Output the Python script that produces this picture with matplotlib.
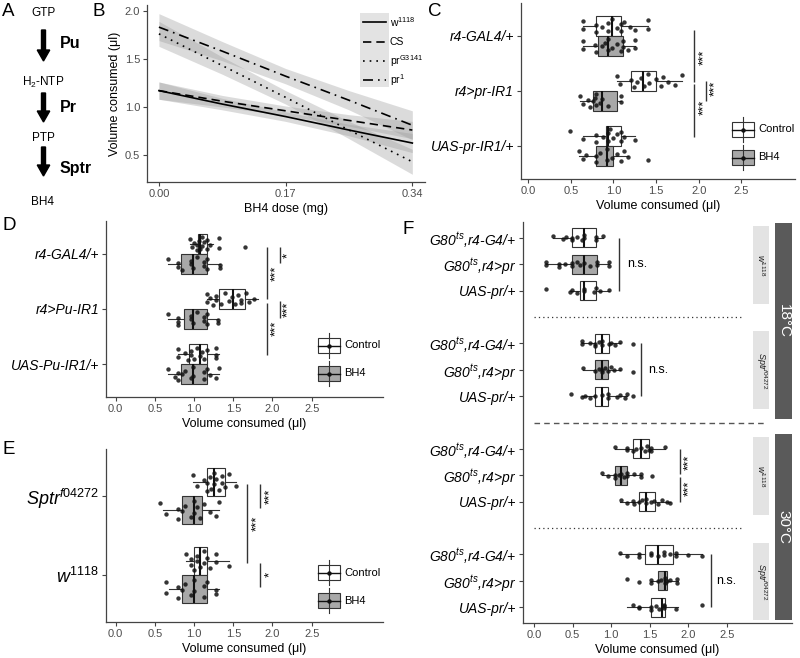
import numpy as np
import matplotlib
matplotlib.use("Agg")
import matplotlib.pyplot as plt
from matplotlib.patches import Rectangle, FancyArrow
from matplotlib.ticker import FormatStrFormatter
from matplotlib.transforms import blended_transform_factory, offset_copy

plt.rcParams["font.family"] = ["Liberation Sans", "DejaVu Sans"]
plt.rcParams["mathtext.fontset"] = "custom"
plt.rcParams["mathtext.rm"] = "Liberation Sans"
plt.rcParams["mathtext.it"] = "Liberation Sans:italic"
plt.rcParams["mathtext.bf"] = "Liberation Sans:bold"
plt.rcParams["mathtext.default"] = "it"

# ---------------- data ----------------
# B: fitted volume vs BH4 dose (with confidence half-widths)
b_dose = [0.0, 0.085, 0.17, 0.255, 0.34]
b_names = [r"w$^{\mathrm{1118}}$", "CS", r"pr$^{\mathrm{G3141}}$", r"pr$^{\mathrm{1}}$"]
b_w1118 = [1.17, 1.03, 0.90, 0.76, 0.625]
b_cs = [1.17, 1.06, 0.96, 0.86, 0.76]
b_prg = [1.76, 1.43, 1.10, 0.76, 0.43]
b_pr1 = [1.83, 1.58, 1.32, 1.07, 0.81]
b_ci_w1118 = [0.09, 0.06, 0.05, 0.06, 0.10]
b_ci_cs = [0.09, 0.06, 0.05, 0.06, 0.09]
b_ci_prg = [0.13, 0.09, 0.07, 0.09, 0.13]
b_ci_pr1 = [0.14, 0.10, 0.08, 0.10, 0.15]

# box stats: (q1, median, q3, whisker low, whisker high)
c_groups = ["r4-GAL4/+", "r4>pr-IR1", "UAS-pr-IR1/+"]
c_ctrl_box = [(0.80, 0.98, 1.09, 0.64, 1.41), (1.20, 1.35, 1.50, 1.04, 1.80), (0.91, 0.94, 1.09, 0.64, 1.25)]
c_bh4_box = [(0.82, 0.94, 1.11, 0.64, 1.25), (0.76, 0.86, 1.04, 0.61, 1.09), (0.80, 0.92, 1.00, 0.60, 1.17)]
c_ctrl_pts = [[0.64, 0.64, 0.80, 0.80, 0.86, 0.94, 0.94, 0.98, 1.04, 1.09, 1.09, 1.12, 1.19, 1.25, 1.41, 1.41],
              [1.04, 1.08, 1.20, 1.24, 1.28, 1.32, 1.36, 1.40, 1.42, 1.50, 1.56, 1.58, 1.64, 1.72, 1.80],
              [0.49, 0.64, 0.80, 0.80, 0.88, 0.94, 0.94, 0.96, 1.00, 1.04, 1.09, 1.09, 1.12, 1.25]]
c_bh4_pts = [[0.64, 0.64, 0.78, 0.80, 0.86, 0.90, 0.94, 0.94, 0.98, 1.04, 1.09, 1.11, 1.11, 1.17, 1.25, 1.25],
             [0.61, 0.64, 0.70, 0.72, 0.76, 0.78, 0.80, 0.80, 0.84, 0.86, 0.94, 1.09, 1.09],
             [0.60, 0.64, 0.68, 0.80, 0.80, 0.84, 0.92, 0.92, 0.98, 1.04, 1.09, 1.12, 1.17, 1.41]]
c_sig_lines = [(1.95, 0.89, 1.84), (1.95, 1.88, 2.83), (2.08, 1.82, 2.18)]
c_sig_text = [(2.02, 1.38, "***"), (2.02, 2.30, "***"), (2.15, 1.95, "***")]

d_groups = ["r4-GAL4/+", "r4>Pu-IR1", "UAS-Pu-IR1/+"]
d_ctrl_box = [(1.05, 1.08, 1.16, 0.95, 1.24), (1.32, 1.50, 1.65, 1.16, 1.81), (0.93, 1.08, 1.16, 0.80, 1.32)]
d_bh4_box = [(0.83, 0.99, 1.16, 0.67, 1.33), (0.87, 0.99, 1.16, 0.67, 1.31), (0.83, 0.99, 1.16, 0.67, 1.32)]
d_ctrl_pts = [[0.95, 0.97, 1.00, 1.04, 1.04, 1.06, 1.08, 1.10, 1.10, 1.12, 1.16, 1.16, 1.20, 1.32, 1.32, 1.65],
              [1.16, 1.16, 1.20, 1.24, 1.28, 1.28, 1.34, 1.40, 1.44, 1.48, 1.52, 1.56, 1.60, 1.60, 1.66, 1.70, 1.76],
              [0.80, 0.80, 0.88, 0.92, 0.96, 0.96, 1.00, 1.04, 1.08, 1.10, 1.12, 1.16, 1.28, 1.28, 1.28]]
d_bh4_pts = [[0.67, 0.80, 0.80, 0.84, 0.96, 0.96, 0.99, 1.04, 1.12, 1.12, 1.16, 1.16, 1.33, 1.33],
             [0.67, 0.80, 0.80, 0.80, 0.96, 0.96, 0.99, 1.04, 1.12, 1.12, 1.16, 1.16, 1.31, 1.31],
             [0.67, 0.76, 0.80, 0.80, 0.84, 0.88, 0.96, 0.99, 0.99, 1.12, 1.12, 1.16, 1.20, 1.28, 1.32]]
d_sig_lines = [(1.93, 0.87, 1.82), (1.93, 1.89, 2.84), (2.09, 0.87, 1.17), (2.09, 1.86, 2.16)]
d_sig_text = [(2.00, 1.36, "***"), (2.00, 2.35, "***"), (2.15, 1.02, "*"), (2.15, 2.00, "***")]

e_groups = [r"Sptr$^{f04272}$", r"w$^{1118}$"]
e_ctrl_box = [(1.16, 1.25, 1.39, 0.99, 1.53), (1.00, 1.08, 1.16, 0.90, 1.45)]
e_bh4_box = [(0.84, 1.00, 1.10, 0.60, 1.32), (0.84, 1.00, 1.16, 0.68, 1.32)]
e_ctrl_pts = [[0.99, 1.04, 1.12, 1.16, 1.16, 1.20, 1.22, 1.25, 1.25, 1.28, 1.32, 1.36, 1.36, 1.40, 1.44, 1.53],
              [0.90, 0.96, 0.96, 1.00, 1.04, 1.04, 1.08, 1.12, 1.12, 1.16, 1.20, 1.28, 1.28, 1.45]]
e_bh4_pts = [[0.56, 0.64, 0.80, 0.80, 0.84, 0.88, 0.96, 1.00, 1.00, 1.04, 1.08, 1.12, 1.20, 1.28, 1.32],
             [0.64, 0.64, 0.80, 0.80, 0.84, 0.88, 0.96, 1.00, 1.00, 1.12, 1.12, 1.16, 1.28, 1.28]]
e_sig_lines = [(1.68, 0.85, 1.85), (1.84, 0.85, 1.15), (1.84, 1.85, 2.15)]
e_sig_text = [(1.76, 1.34, "***"), (1.92, 1.00, "***"), (1.92, 2.00, "*")]

# F: 4 facets x 3 genotypes (18C w1118, 18C Sptr, 30C w1118, 30C Sptr)
f_genos = [r"G80$^{ts}$,r4-G4/+", r"G80$^{ts}$,r4>pr", "UAS-pr/+"]
f_is_exp = [False, True, False]
f_box = [(0.49, 0.65, 0.80, 0.25, 0.90), (0.49, 0.65, 0.81, 0.16, 0.97), (0.60, 0.65, 0.80, 0.47, 0.97),
         (0.79, 0.88, 0.97, 0.62, 1.12), (0.79, 0.88, 0.96, 0.63, 1.12), (0.79, 0.88, 0.96, 0.62, 1.21),
         (1.28, 1.38, 1.49, 1.05, 1.69), (1.05, 1.13, 1.21, 0.88, 1.39), (1.36, 1.45, 1.57, 1.11, 1.76),
         (1.44, 1.61, 1.80, 1.11, 2.17), (1.61, 1.69, 1.72, 1.51, 1.87), (1.52, 1.66, 1.69, 1.20, 1.87)]
f_pts = [[0.25, 0.38, 0.42, 0.49, 0.49, 0.56, 0.62, 0.65, 0.65, 0.80, 0.80, 0.90],
         [0.16, 0.16, 0.32, 0.32, 0.40, 0.49, 0.49, 0.56, 0.60, 0.65, 0.72, 0.81, 0.81, 0.97, 0.97],
         [0.16, 0.47, 0.49, 0.56, 0.65, 0.65, 0.78, 0.80, 0.86, 0.97],
         [0.62, 0.62, 0.72, 0.79, 0.79, 0.84, 0.88, 0.88, 0.97, 1.00, 1.05, 1.12, 1.28],
         [0.63, 0.79, 0.84, 0.88, 0.88, 0.92, 0.96, 1.00, 1.04, 1.12, 1.28],
         [0.48, 0.62, 0.66, 0.72, 0.79, 0.88, 0.96, 0.96, 1.08, 1.12, 1.18, 1.21, 1.28],
         [1.05, 1.20, 1.20, 1.28, 1.32, 1.38, 1.44, 1.46, 1.49, 1.52, 1.52, 1.69],
         [0.88, 0.96, 1.05, 1.05, 1.10, 1.13, 1.17, 1.21, 1.21, 1.30, 1.39, 1.39, 1.53],
         [1.13, 1.20, 1.28, 1.30, 1.36, 1.40, 1.45, 1.45, 1.52, 1.55, 1.60, 1.66, 1.72, 1.76],
         [1.12, 1.20, 1.36, 1.36, 1.52, 1.52, 1.60, 1.68, 1.68, 1.76, 1.84, 1.84, 2.00, 2.17],
         [1.20, 1.36, 1.52, 1.52, 1.60, 1.64, 1.69, 1.69, 1.72, 1.76, 1.85, 1.85],
         [1.28, 1.36, 1.36, 1.52, 1.52, 1.58, 1.62, 1.68, 1.68, 1.68, 1.84, 2.17]]
f_strain = [r"w$^{1118}$", r"Sptr$^{f04272}$", r"w$^{1118}$", r"Sptr$^{f04272}$"]
f_temp = ["18°C", "30°C"]
f_sig_lines = [(1.10, 1, 3), (1.38, 5, 7), (1.89, 9, 9.95), (1.89, 10.05, 11), (2.29, 13, 15)]
f_sig_text = [(1.20, 2, "n.s."), (1.48, 6, "n.s."), (2.36, 14, "n.s.")]
f_sig_star = [(1.96, 9.5, "***"), (1.96, 10.5, "***")]

# ---------------- figure ----------------
W, H = 800, 658
fig = plt.figure(figsize=(8, 6.58), dpi=100)
EDGE = "#333333"
GREY = "#a8a8a8"
JIT = [-0.6, 0.35, -0.15, 0.75, 0.05, -0.4, 0.55, -0.8, 0.2, -0.25, 0.65, -0.55, 0.1, 0.45, -0.7, 0.3, -0.05]


def px_axes(l, t, r, b):
    return fig.add_axes([l / W, 1 - b / H, (r - l) / W, (b - t) / H])


def style_ax(ax):
    for s in ["top", "right"]:
        ax.spines[s].set_visible(False)
    for s in ["left", "bottom"]:
        ax.spines[s].set_color("#444444")
        ax.spines[s].set_linewidth(0.9)
    ax.tick_params(length=3, width=0.8, color="#444444", labelsize=8, labelcolor="#4d4d4d", pad=2)


def draw_boxes(ax, pos, boxes, pts, fc, width, spread):
    stats = [dict(q1=b[0], med=b[1], q3=b[2], whislo=b[3], whishi=b[4], fliers=[]) for b in boxes]
    ax.bxp(stats, positions=pos, widths=width, orientation="horizontal", patch_artist=True,
           showcaps=False, showfliers=False, manage_ticks=False, zorder=2,
           boxprops=dict(facecolor=fc, edgecolor=EDGE, linewidth=0.8),
           medianprops=dict(color="#111111", linewidth=1.5),
           whiskerprops=dict(color=EDGE, linewidth=0.8))
    for p, vals in zip(pos, pts):
        offs = np.array([JIT[i % len(JIT)] for i in range(len(vals))]) * spread
        ax.scatter(vals, p + offs, s=10, color="#111111", alpha=0.85, lw=0, zorder=3)


def add_sig(ax, lines, texts, rot=90, fs=9.5):
    for x, y0, y1 in lines:
        ax.plot([x, x], [y0, y1], color="#333333", lw=1.0, solid_capstyle="butt", zorder=4)
    # asterisks sit high in the em box, so nudge the rotated text to the right
    tr = offset_copy(ax.transData, fig=fig, x=3.5, y=0, units="dots")
    for x, y, s in texts:
        ax.text(x, y, s, rotation=rot, ha="center", va="center", fontsize=fs, zorder=4, transform=tr)


def dodge_panel(ax, groups, ctrl_box, bh4_box, ctrl_pts, bh4_pts, lines, texts, ylab_fs):
    cats = np.arange(1, len(groups) + 1)
    draw_boxes(ax, cats - 0.18, ctrl_box, ctrl_pts, "white", 0.36, 0.15)
    draw_boxes(ax, cats + 0.18, bh4_box, bh4_pts, GREY, 0.36, 0.15)
    add_sig(ax, lines, texts)
    ax.set_ylim(len(groups) + 0.6, 0.4)
    ax.set_yticks(cats)
    ax.set_yticklabels(groups, style="italic", fontsize=ylab_fs, color="black")
    ax.set_xticks([0, 0.5, 1.0, 1.5, 2.0, 2.5])
    ax.xaxis.set_major_formatter(FormatStrFormatter("%.1f"))
    ax.set_xlabel("Volume consumed (μl)", fontsize=9, labelpad=3)


# ---- panel B ----
axB = px_axes(147, 5, 425, 182)
style_ax(axB)
b_fits = [b_w1118, b_cs, b_prg, b_pr1]
b_cis = [b_ci_w1118, b_ci_cs, b_ci_prg, b_ci_pr1]
b_styles = ["-", (0, (5, 3)), (0, (1, 3)), (0, (6, 3, 1, 3))]
for fit, ci in zip(b_fits, b_cis):
    fit = np.array(fit)
    ci = np.array(ci)
    axB.fill_between(b_dose, fit - ci, fit + ci, color="#9a9a9a", alpha=0.35, lw=0, zorder=1)
for fit, ls in zip(b_fits, b_styles):
    axB.plot(b_dose, fit, color="black", lw=1.2, ls=ls, zorder=3)
axB.set_xlim(-0.016, 0.357)
axB.set_ylim(0.22, 2.06)
axB.set_xticks([0.0, 0.17, 0.34])
axB.xaxis.set_major_formatter(FormatStrFormatter("%.2f"))
axB.set_yticks([0.5, 1.0, 1.5, 2.0])
axB.yaxis.set_major_formatter(FormatStrFormatter("%.1f"))
axB.set_xlabel("BH4 dose (mg)", fontsize=9, labelpad=3)
axB.set_ylabel("Volume consumed (μl)", fontsize=9, labelpad=3)

# ---- panel C ----
axC = px_axes(521, 3, 795, 179)
style_ax(axC)
dodge_panel(axC, c_groups, c_ctrl_box, c_bh4_box, c_ctrl_pts, c_bh4_pts, c_sig_lines, c_sig_text, 10)
axC.set_xlim(-0.085, 3.13)

# ---- panel D ----
axD = px_axes(106, 221, 383, 397)
style_ax(axD)
dodge_panel(axD, d_groups, d_ctrl_box, d_bh4_box, d_ctrl_pts, d_bh4_pts, d_sig_lines, d_sig_text, 10)
axD.set_xlim(-0.124, 3.41)

# ---- panel E ----
axE = px_axes(106, 449, 383, 622)
style_ax(axE)
dodge_panel(axE, e_groups, e_ctrl_box, e_bh4_box, e_ctrl_pts, e_bh4_pts, e_sig_lines, e_sig_text, 13)
axE.set_xlim(-0.124, 3.41)

# ---- panel F ----
axF = px_axes(523, 222, 792, 623)
style_ax(axF)
f_rows = []
for k in range(4):
    f_rows += [4 * k + 1, 4 * k + 2, 4 * k + 3]
f_rows = np.array(f_rows)
f_exp = np.array(f_is_exp * 4)
for exp, fc in [(False, "white"), (True, GREY)]:
    idx = np.where(f_exp == exp)[0]
    draw_boxes(axF, f_rows[idx], [f_box[i] for i in idx], [f_pts[i] for i in idx], fc, 0.72, 0.12)
add_sig(axF, f_sig_lines, f_sig_star)
for x, y, s in f_sig_text:
    axF.text(x, y, s, ha="left", va="center", fontsize=9)
axF.plot([0, 2.70], [4, 4], color="#333333", lw=0.9, ls=(0, (1, 2.5)))
axF.plot([0, 2.70], [12, 12], color="#333333", lw=0.9, ls=(0, (1, 2.5)))
axF.plot([0, 2.99], [8, 8], color="#555555", lw=1.0, ls=(0, (4, 3)), clip_on=False)
axF.set_xlim(-0.142, 3.34)
axF.set_ylim(15.6, 0.4)
axF.set_yticks(f_rows)
axF.set_yticklabels(f_genos * 4, style="italic", fontsize=10, color="black")
axF.set_xticks([0, 0.5, 1.0, 1.5, 2.0, 2.5])
axF.xaxis.set_major_formatter(FormatStrFormatter("%.1f"))
axF.set_xlabel("Volume consumed (μl)", fontsize=9, labelpad=3)
trF = blended_transform_factory(axF.transAxes, axF.transData)
for k in range(4):
    axF.add_patch(Rectangle((0.855, 4 * k + 0.55), 0.059, 2.95, transform=trF,
                            facecolor="#e3e3e3", edgecolor="none", clip_on=False))
    axF.text(0.8845, 4 * k + 2.02, f_strain[k], transform=trF, rotation=270, ha="center",
             va="center", fontsize=6.5, style="italic", color="#1a1a1a")
for (y0, y1), temp in zip([(0.45, 7.85), (8.45, 15.5)], f_temp):
    axF.add_patch(Rectangle((0.937, y0), 0.063, y1 - y0, transform=trF,
                            facecolor="#5a5a5a", edgecolor="none", clip_on=False))
    axF.text(0.9685, (y0 + y1) / 2, temp, transform=trF, rotation=270, ha="center",
             va="center", fontsize=11, color="white")

# ---- overlay: panel A, letters, legends ----
ov = fig.add_axes([0, 0, 1, 1])
ov.set_xlim(0, W)
ov.set_ylim(H, 0)
ov.set_axis_off()

for s, (x, y) in zip(["A", "B", "C", "D", "E", "F"],
                     [(2, 12), (93, 12), (428, 12), (2, 226), (2, 450), (402, 229)]):
    ov.text(x, y, s, fontsize=13.5, ha="left", va="center")

for s, y in [("GTP", 13), (r"H$_{\mathrm{2}}$-NTP", 82), ("PTP", 138), ("BH4", 202)]:
    ov.text(43, y, s, fontsize=8.5, ha="center", va="center")
for s, y in [("Pu", 44), ("Pr", 107), ("Sptr", 168)]:
    ov.text(60, y, s, fontsize=11.5, fontweight="bold", ha="left", va="center")
for y0, y1 in [(30, 61), (93, 122), (147, 176)]:
    ov.add_patch(FancyArrow(43.5, y0, 0, y1 - y0, width=4, head_width=12.5, head_length=11,
                            length_includes_head=True, color="black"))

# legend of panel B
ov.add_patch(Rectangle((360, 13), 29, 74, facecolor="#e3e3e3", edgecolor="none"))
for name, ls, y in zip(b_names, b_styles, [22, 42, 61, 80]):
    ov.plot([363, 386], [y, y], color="black", lw=1.2, ls=ls)
    ov.text(390, y, name, fontsize=7.5, ha="left", va="center")


def box_key(x0, y0, fc, label):
    ov.plot([x0 + 11, x0 + 11], [y0 - 5, y0 + 20], color=EDGE, lw=0.8)
    ov.add_patch(Rectangle((x0, y0), 22, 15, facecolor=fc, edgecolor=EDGE, lw=0.8))
    ov.plot([x0, x0 + 22], [y0 + 7.5, y0 + 7.5], color="#111111", lw=1.0)
    ov.plot([x0 + 11], [y0 + 7.5], "o", color="#111111", ms=2.2)
    ov.text(x0 + 26, y0 + 7.5, label, fontsize=8, ha="left", va="center")


for x0, y0 in [(732, 122), (318, 338), (318, 565)]:
    box_key(x0, y0, "white", "Control")
    box_key(x0, y0 + 28, GREY, "BH4")

fig.savefig("out.png", dpi=100)
